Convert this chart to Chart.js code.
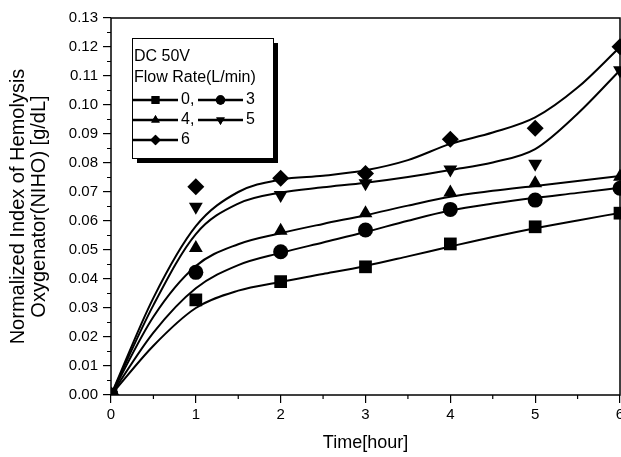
<!DOCTYPE html>
<html>
<head>
<meta charset="utf-8">
<script src="https://cdn.jsdelivr.net/npm/chart.js@4"></script>
<style>
  html, body { margin: 0; padding: 0; background: #fff; overflow: hidden; }
  #wrap { width: 621px; height: 457px; overflow: hidden; }
</style>
</head>
<body>
<div id="wrap"><canvas id="chartNiho" width="629" height="457"></canvas></div>
<script>
// ==== Data ====
const hours = [0, 1, 2, 3, 4, 5, 6];
const rate0 = [0, 0.0328, 0.0391, 0.0442, 0.0521, 0.0580, 0.0627];
const rate3 = [0, 0.0423, 0.0494, 0.0569, 0.0640, 0.0672, 0.0713];
const rate4 = [0, 0.0507, 0.0566, 0.0627, 0.0698, 0.0730, 0.0753];
const rate5 = [0, 0.0649, 0.0690, 0.0730, 0.0778, 0.0797, 0.1120];
const rate6 = [0, 0.0718, 0.0747, 0.0764, 0.0882, 0.0920, 0.1201];

// fitted curves, every half hour
const fitHours = [0, 0.5, 1, 1.5, 2, 2.5, 3, 3.5, 4, 4.5, 5, 5.5, 6];
const fit0 = [0, 0.0170, 0.0300, 0.0360, 0.0390, 0.0417, 0.0445, 0.0478, 0.0512, 0.0545, 0.0575, 0.0602, 0.0628];
const fit3 = [0, 0.0215, 0.0368, 0.0448, 0.0490, 0.0526, 0.0562, 0.0601, 0.0636, 0.0660, 0.0680, 0.0697, 0.0715];
const fit4 = [0, 0.0270, 0.0445, 0.0520, 0.0558, 0.0590, 0.0620, 0.0653, 0.0684, 0.0704, 0.0721, 0.0738, 0.0755];
const fit5 = [0, 0.0310, 0.0555, 0.0660, 0.0698, 0.0716, 0.0732, 0.0752, 0.0776, 0.0802, 0.0848, 0.0970, 0.1120];
const fit6 = [0, 0.0335, 0.0582, 0.0700, 0.0743, 0.0756, 0.0775, 0.0810, 0.0866, 0.0905, 0.0957, 0.1060, 0.1200];

const legendTitle = ['DC 50V', 'Flow Rate(L/min)'];
const xTitle = 'Time[hour]';
const yTitle = ['Normalized Index of Hemolysis', 'Oxygenator(NIHO) [g/dL]'];

const FONT = "'Liberation Sans', Arial, sans-serif";

function pts(xs, ys) {
  return xs.map((x, i) => ({ x: x, y: ys[i] }));
}

function markerSet(label, ys, style, radius, rotation) {
  return {
    label: label,
    data: pts(hours, ys),
    showLine: false,
    pointStyle: style,
    pointRadius: radius,
    pointRotation: rotation || 0,
    pointBackgroundColor: '#000',
    pointBorderColor: '#000',
    pointBorderWidth: 0,
    clip: { left: 0, bottom: 0, right: false, top: false }
  };
}

function curveSet(ys) {
  return {
    data: pts(fitHours, ys),
    borderColor: '#000',
    borderWidth: 2,
    pointRadius: 0,
    cubicInterpolationMode: 'monotone',
    fill: false
  };
}

// ==== frame, minor ticks and legend box ====
const extras = {
  id: 'extras',
  afterDraw(chart) {
    const ctx = chart.ctx;
    const a = chart.chartArea;
    const xs = chart.scales.x, ys = chart.scales.y;
    ctx.save();
    ctx.strokeStyle = '#000';
    ctx.lineWidth = 1.5;
    ctx.strokeRect(a.left, a.top, a.right - a.left, a.bottom - a.top);

    // minor ticks
    ctx.lineWidth = 1.2;
    ctx.beginPath();
    for (let v = 0.005; v < 0.13; v += 0.01) {
      const py = ys.getPixelForValue(v);
      ctx.moveTo(a.left - 4, py);
      ctx.lineTo(a.left, py);
    }
    for (let t = 0.5; t < 6; t += 1) {
      const px = xs.getPixelForValue(t);
      ctx.moveTo(px, a.bottom);
      ctx.lineTo(px, a.bottom + 4);
    }
    ctx.stroke();

    // legend box with shadow
    const bx = 132, by = 38, bw = 141, bh = 120;
    ctx.fillStyle = '#000';
    ctx.fillRect(bx + 5, by + 5, bw, bh);
    ctx.fillStyle = '#fff';
    ctx.fillRect(bx, by, bw, bh);
    ctx.lineWidth = 1;
    ctx.strokeRect(bx + 0.5, by + 0.5, bw, bh);

    ctx.fillStyle = '#000';
    ctx.font = '16px ' + FONT;
    ctx.textBaseline = 'middle';
    ctx.textAlign = 'left';
    ctx.fillText(legendTitle[0], 134, 57);
    ctx.fillText(legendTitle[1], 134, 78);

    const entries = [
      { ds: 0, col: 0, row: 0, text: '0,' },
      { ds: 1, col: 1, row: 0, text: '3' },
      { ds: 2, col: 0, row: 1, text: '4,' },
      { ds: 3, col: 1, row: 1, text: '5' },
      { ds: 4, col: 0, row: 2, text: '6' }
    ];
    entries.forEach(e => {
      const d = chart.data.datasets[e.ds];
      const y = 100 + e.row * 20;
      const x0 = e.col === 0 ? 133 : 198;
      const x1 = e.col === 0 ? 178 : 243;
      ctx.lineWidth = 2.5;
      ctx.beginPath();
      ctx.moveTo(x0, y);
      ctx.lineTo(x1, y);
      ctx.stroke();
      Chart.helpers.drawPoint(ctx, {
        pointStyle: d.pointStyle,
        radius: d.pointRadius * 0.62,
        rotation: d.pointRotation,
        borderWidth: 0
      }, (x0 + x1) / 2, y);
      ctx.fill();
      ctx.fillText(e.text, x1 + 3, y);
    });
    ctx.restore();
  }
};

const ctx = document.getElementById('chartNiho').getContext('2d');
const chart = new Chart(ctx, {
  type: 'line',
  data: {
    datasets: [
      markerSet('0', rate0, 'rect', 9),
      markerSet('3', rate3, 'circle', 7.5),
      markerSet('4', rate4, 'triangle', 8),
      markerSet('5', rate5, 'triangle', 8, 180),
      markerSet('6', rate6, 'rectRot', 8.5),
      curveSet(fit0),
      curveSet(fit3),
      curveSet(fit4),
      curveSet(fit5),
      curveSet(fit6)
    ]
  },
  options: {
    responsive: false,
    animation: false,
    layout: { padding: { top: 18, right: 2, left: 0, bottom: 0 } },
    plugins: {
      legend: { display: false },
      tooltip: { enabled: false }
    },
    scales: {
      x: {
        type: 'linear',
        min: 0,
        max: 6,
        afterFit(scale) {
          scale.height = 62;
        },
        border: { display: false },
        grid: { drawOnChartArea: false, drawTicks: true, tickLength: 8, color: '#000', lineWidth: 1.2 },
        ticks: { stepSize: 1, color: '#000', padding: 3, maxRotation: 0, font: { family: FONT, size: 15 } },
        title: { display: true, text: xTitle, color: '#000', padding: { top: 0, bottom: 3 }, font: { family: FONT, size: 18 } }
      },
      y: {
        type: 'linear',
        min: 0,
        max: 0.13,
        afterFit(scale) {
          scale.width = 111;
        },
        border: { display: false },
        grid: { drawOnChartArea: false, drawTicks: true, tickLength: 8, color: '#000', lineWidth: 1.2 },
        ticks: {
          stepSize: 0.01,
          color: '#000',
          padding: 5,
          font: { family: FONT, size: 15 },
          callback: v => Number(v).toFixed(2)
        },
        title: { display: true, text: yTitle, color: '#000', padding: { top: 7.5, bottom: 0 }, font: { family: FONT, size: 20, lineHeight: 1.05 } }
      }
    }
  },
  plugins: [extras]
});
</script>
</body>
</html>
